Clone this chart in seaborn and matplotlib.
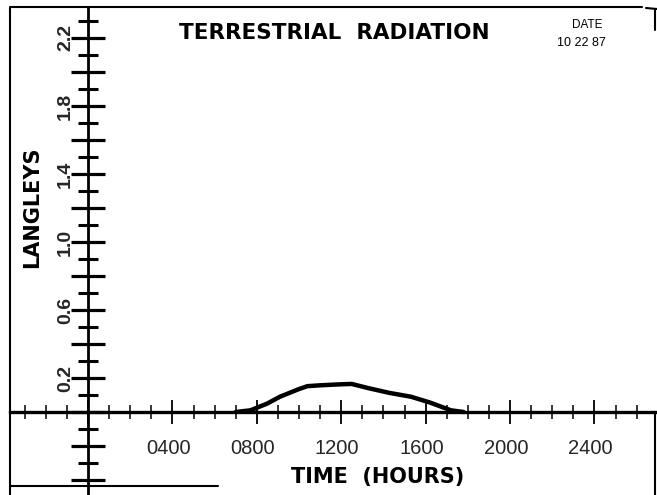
import matplotlib
matplotlib.use("Agg")
import matplotlib.pyplot as plt
from matplotlib.lines import Line2D
from matplotlib.ticker import FixedLocator, FuncFormatter
from matplotlib.transforms import ScaledTranslation
import numpy as np
import pandas as pd
import seaborn as sns

# Terrestrial radiation trace for the day (hour of day, langleys)
hours = [7.0, 7.7, 8.5, 9.1, 10.0, 10.4, 11.0, 12.0, 12.5, 13.3, 14.3, 15.3, 16.2, 17.2, 17.8]
langleys = [0.0, 0.01, 0.05, 0.09, 0.135, 0.152, 0.157, 0.163, 0.165, 0.14, 0.112, 0.09, 0.056, 0.01, 0.0]

y_tick_labels = ["0.2", "0.6", "1.0", "1.4", "1.8", "2.2"]
x_tick_labels = ["0400", "0800", "1200", "1600", "2000", "2400"]

title = "TERRESTRIAL  RADIATION"
date_label = "DATE"
date_value = "10 22 87"

W, H = 657, 495
sns.set_theme(style="white")
plt.rcParams["font.family"] = ["Liberation Sans", "DejaVu Sans"]

fig = plt.figure(figsize=(W / 100, H / 100), dpi=100)
ax = fig.add_axes([0, 0, 1, 1])
ax.set_facecolor("white")

# scale: 21.1 px per hour, 170 px per langley, origin at (88, 412) px
px_hour = 21.1
px_unit = 170.0
x0_px, y0_px = 88, 412
ax.set_xlim(-x0_px / px_hour, (W - x0_px) / px_hour)
ax.set_ylim(-(H - y0_px) / px_unit, y0_px / px_unit)

df = pd.DataFrame({"hour": hours, "langleys": langleys})
sns.lineplot(data=df, x="hour", y="langleys", color="black", linewidth=3.2, ax=ax)

# crossed axes through the origin
for side in ("top", "right"):
    ax.spines[side].set_visible(False)
ax.spines["left"].set_position(("data", 0))
ax.spines["bottom"].set_position(("data", 0))
ax.spines["left"].set_linewidth(2)
ax.spines["bottom"].set_linewidth(2.4)
ax.spines["left"].set_color("black")
ax.spines["bottom"].set_color("black")
ax.spines["bottom"].set_bounds(-78 / px_hour, (W - x0_px) / px_hour)
ax.spines["left"].set_bounds(-(H - y0_px) / px_unit, (y0_px - 8) / px_unit)

ax.yaxis.set_major_locator(FixedLocator(np.arange(-0.4, 2.21, 0.2)))
ax.yaxis.set_minor_locator(FixedLocator(np.arange(-0.3, 2.31, 0.2)))
ax.xaxis.set_major_locator(FixedLocator(np.arange(0, 25, 4)))
ax.xaxis.set_minor_locator(FixedLocator([h for h in range(-3, 27) if h % 4 != 0]))

y_label_map = {round(float(v), 1): v for v in y_tick_labels}
x_label_map = {4 * (i + 1): s for i, s in enumerate(x_tick_labels)}


def fmt_y(v, pos):
    return y_label_map.get(round(v, 1), "") if v > 0.05 else ""


def fmt_x(v, pos):
    return x_label_map.get(int(round(v)), "")


ax.yaxis.set_major_formatter(FuncFormatter(fmt_y))
ax.xaxis.set_major_formatter(FuncFormatter(fmt_x))

ax.tick_params(axis="y", which="major", direction="inout", length=24, width=2.3,
               color="black", labelsize=14, labelrotation=90, pad=-2, left=True)
ax.tick_params(axis="y", which="minor", direction="inout", length=14.5, width=2.2,
               color="black", left=True)
ax.tick_params(axis="x", which="major", direction="inout", length=17, width=1.3,
               color="black", labelsize=14.5, pad=11, bottom=True)
ax.tick_params(axis="x", which="minor", direction="inout", length=10, width=1.1,
               color="black", bottom=True)
for lbl in ax.get_yticklabels():
    lbl.set_va("center")
    lbl.set_fontweight("bold")
shift_left = ScaledTranslation(-4 / 100, 0, fig.dpi_scale_trans)
for lbl in ax.get_xticklabels():
    lbl.set_transform(lbl.get_transform() + shift_left)

bold_family = ["DejaVu Sans"]
ax.set_xlabel("TIME  (HOURS)", fontsize=15, fontweight="bold", color="black",
              family=bold_family)
ax.xaxis.set_label_coords(378 / W, 1 - 477 / H)
ax.xaxis.label.set_va("center")
ax.set_ylabel("LANGLEYS", fontsize=15, fontweight="bold", color="black",
              family=bold_family)
ax.yaxis.set_label_coords(32 / W, 1 - 207 / H)
ax.yaxis.label.set_va("center")

ax.set_title(title, fontsize=15.5, fontweight="bold", color="black", family=bold_family,
             x=334 / W, y=1 - 33 / H, va="center", pad=0)
ax.text(587 / W, 1 - 25 / H, date_label, transform=ax.transAxes, fontsize=8.5,
        ha="center", va="center", color="black")
ax.text(581 / W, 1 - 43 / H, date_value, transform=ax.transAxes, fontsize=9,
        ha="center", va="center", color="black")

# sheet border
border = [
    ((10, 10), (8, 495)),
    ((10, 642), (7, 7)),
    ((646, 657), (8, 9)),
    ((655, 655), (10, 30)),
    ((655, 655), (413, 495)),
    ((10, 218), (486, 486)),
]
for xs, ys in border:
    fig.add_artist(Line2D([x / W for x in xs], [1 - y / H for y in ys],
                          transform=fig.transFigure, color="black", linewidth=1.5))

fig.savefig("out.png", dpi=100, facecolor="white")
